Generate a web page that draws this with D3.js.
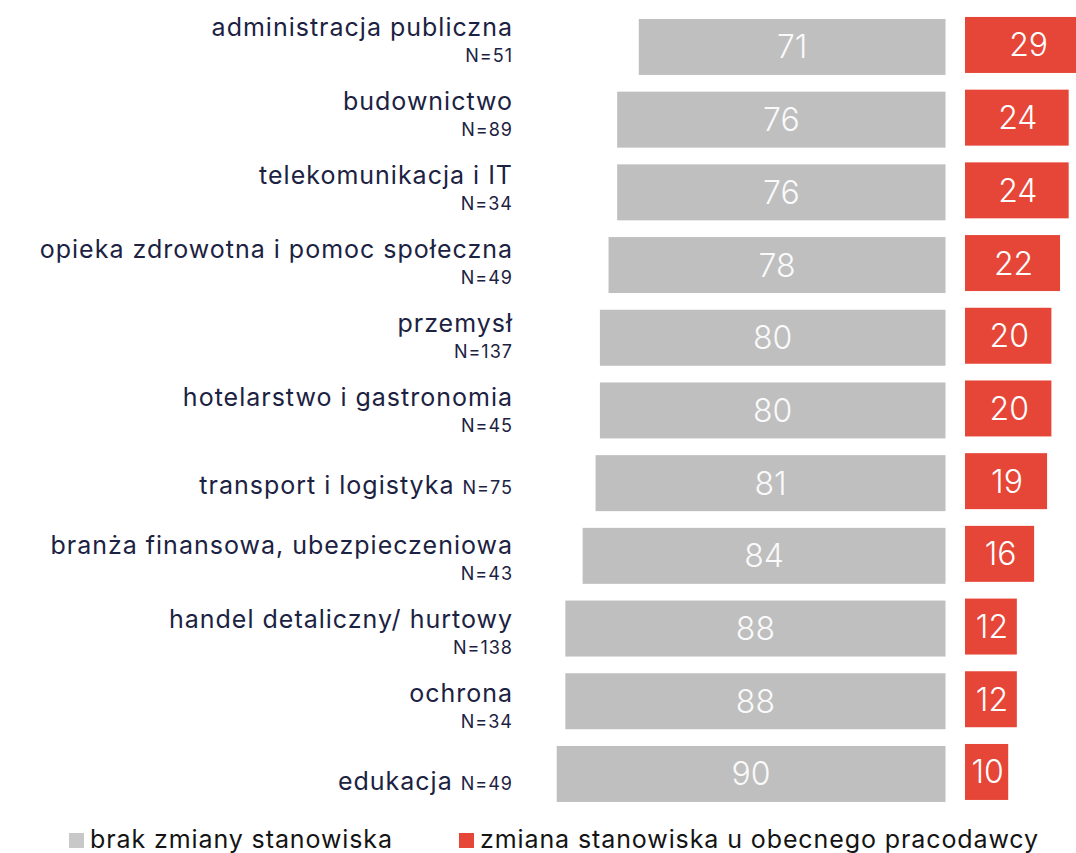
<!DOCTYPE html>
<html>
<head>
<meta charset="utf-8">
<script src="https://cdn.jsdelivr.net/npm/d3@7"></script>
<style>
  body { margin: 0; background: #fff; }
  svg { display: block; }
</style>
</head>
<body>
<script>
var categories = [
  "administracja publiczna",
  "budownictwo",
  "telekomunikacja i IT",
  "opieka zdrowotna i pomoc społeczna",
  "przemysł",
  "hotelarstwo i gastronomia",
  "transport i logistyka",
  "branża finansowa, ubezpieczeniowa",
  "handel detaliczny/ hurtowy",
  "ochrona",
  "edukacja"
];
var sampleN = ["N=51", "N=89", "N=34", "N=49", "N=137", "N=45", "N=75", "N=43", "N=138", "N=34", "N=49"];
// N shown on the same line as the category name
var inlineN = [false, false, false, false, false, false, true, false, false, false, true];
var noChange = [71, 76, 76, 78, 80, 80, 81, 84, 88, 88, 90];
var changed = [29, 24, 24, 22, 20, 20, 19, 16, 12, 12, 10];
var legendLabels = ["brak zmiany stanowiska", "zmiana stanowiska u obecnego pracodawcy"];

var width = 1076,
    height = 853,
    grayRight = 945.5,
    redLeft = 965,
    font = "Inter, 'Open Sans', sans-serif",
    textColor = "#1c2242";

var color = d3.scaleOrdinal().domain(legendLabels).range(["#bfbfbf", "#e64637"]);

var svg = d3.select("body").append("svg")
    .attr("width", width)
    .attr("height", height)
    .style("font-family", font);

var x = d3.scaleLinear().domain([0, 100]).range([0, 432]);

var y = d3.scaleBand()
    .domain(categories)
    .range([10.6, 10.6 + 72.7 * categories.length])
    .paddingInner(0.23)
    .paddingOuter(0.115);

// label blocks sit on a slightly looser grid than the bars
var yl = d3.scalePoint()
    .domain(categories)
    .range([41, 41 + 74 * (categories.length - 1)]);

var rows = categories.map(function(c, i) {
    return {cat: c, n: sampleN[i], inline: inlineN[i], a: noChange[i], b: changed[i]};
});

svg.append("clipPath").attr("id", "clip")
    .append("rect").attr("width", width).attr("height", height);

var row = svg.selectAll(".row")
    .data(rows)
    .enter().append("g")
    .attr("class", "row")
    .attr("clip-path", "url(#clip)");

row.append("rect")
    .attr("x", function(d) { return grayRight - x(d.a); })
    .attr("y", function(d) { return y(d.cat); })
    .attr("width", function(d) { return x(d.a); })
    .attr("height", y.bandwidth())
    .style("fill", color(legendLabels[0]));

row.append("rect")
    .attr("x", redLeft)
    .attr("y", function(d) { return y(d.cat) - 2; })
    .attr("width", function(d) { return x(d.b); })
    .attr("height", y.bandwidth())
    .style("fill", color(legendLabels[1]));

row.append("text")
    .attr("x", function(d) { return grayRight - x(d.a) / 2; })
    .attr("y", function(d) { return y(d.cat) + y.bandwidth() / 2 + 11.5; })
    .attr("text-anchor", "middle")
    .style("font-size", "32px")
    .style("font-weight", 300)
    .style("fill", "#fafafa")
    .text(function(d) { return d.a; });

row.append("text")
    .attr("x", function(d) { return redLeft + x(d.b) / 2 + 1; })
    .attr("y", function(d) { return y(d.cat) + y.bandwidth() / 2 + 9.5; })
    .attr("text-anchor", "middle")
    .style("font-size", "32px")
    .style("font-weight", 300)
    .style("fill", "#fff")
    .text(function(d) { return d.b; });

// category labels
var label = svg.selectAll(".label")
    .data(rows)
    .enter().append("text")
    .attr("class", "label")
    .attr("text-anchor", "end")
    .attr("x", 513)
    .attr("y", function(d) { return d.inline ? yl(d.cat) + 9 : yl(d.cat) - 5; })
    .style("letter-spacing", "1px")
    .style("fill", textColor);

label.append("tspan")
    .style("font-size", "25px")
    .text(function(d) { return d.inline ? d.cat + " " : d.cat; });

label.filter(function(d) { return d.inline; })
    .append("tspan")
    .style("font-size", "18px")
    .text(function(d) { return d.n; });

svg.selectAll(".nlabel")
    .data(rows.filter(function(d) { return !d.inline; }))
    .enter().append("text")
    .attr("class", "nlabel")
    .attr("text-anchor", "end")
    .attr("x", 513)
    .attr("y", function(d) { return yl(d.cat) + 21; })
    .style("font-size", "18px")
    .style("letter-spacing", "1px")
    .style("fill", textColor)
    .text(function(d) { return d.n; });

// legend
var legendX = [69, 459];
var legend = svg.selectAll(".legend")
    .data(legendLabels)
    .enter().append("g")
    .attr("class", "legend")
    .attr("transform", function(d, i) { return "translate(" + legendX[i] + ",833)"; });

legend.append("rect")
    .attr("width", 15)
    .attr("height", 15)
    .style("fill", function(d, i) { return i === 0 ? "#c8c8c8" : color(d); });

legend.append("text")
    .attr("x", 21)
    .attr("y", 14.5)
    .style("font-size", "25px")
    .style("letter-spacing", "0.9px")
    .style("fill", "#141414")
    .text(function(d) { return d; });
</script>
</body>
</html>
